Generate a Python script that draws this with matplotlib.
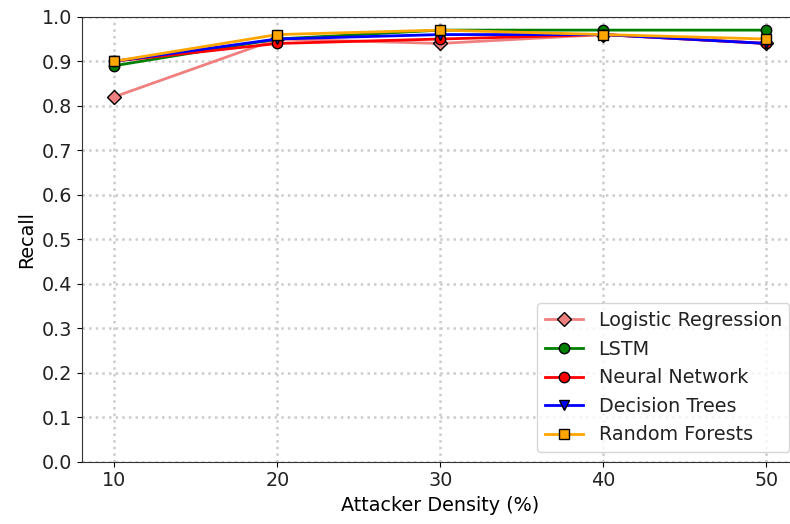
import matplotlib
matplotlib.use("Agg")
import matplotlib.pyplot as plt

density = [10, 20, 30, 40, 50]
logistic_regression = [0.82, 0.95, 0.94, 0.96, 0.94]
lstm = [0.89, 0.95, 0.97, 0.97, 0.97]
neural_network = [0.90, 0.94, 0.95, 0.96, 0.94]
decision_trees = [0.90, 0.95, 0.96, 0.96, 0.94]
random_forests = [0.90, 0.96, 0.97, 0.96, 0.95]

plt.rcParams['font.size'] = 13.8
plt.rcParams['text.color'] = '#222222'
plt.rcParams['xtick.labelcolor'] = '#222222'
plt.rcParams['ytick.labelcolor'] = '#222222'

fig = plt.figure(figsize=(7.9, 5.24), dpi=100)
# axes runs a bit past the right edge, the reference is cropped there
ax = fig.add_axes([0.1034, 0.119, 0.908, 0.849])

ax.plot(density, logistic_regression, label='Logistic Regression', color='lightcoral',
        marker='D', markeredgecolor='black', markersize=7.5, linewidth=2)
ax.plot(density, lstm, label='LSTM', color='green',
        marker='o', markeredgecolor='black', markersize=7.5, linewidth=2)
ax.plot(density, neural_network, label='Neural Network', color='red',
        marker='o', markeredgecolor='black', markersize=7.5, linewidth=2)
ax.plot(density, decision_trees, label='Decision Trees', color='blue',
        marker='v', markeredgecolor='black', markersize=7.5, linewidth=2)
ax.plot(density, random_forests, label='Random Forests', color='orange',
        marker='s', markeredgecolor='black', markersize=7.5, linewidth=2)

ax.set_xlim(8, 52)
ax.set_ylim(0, 1)
ax.set_xticks(density)
ax.set_yticks([i / 10 for i in range(11)])
ax.set_xlabel('Attacker Density (%)')
ax.set_ylabel('Recall')
ax.grid(True, linestyle=':', linewidth=1.8, color='#cccccc')
for spine in ax.spines.values():
    spine.set_color('#333333')
ax.legend(loc='lower right')

fig.savefig('out.png', dpi=100)
